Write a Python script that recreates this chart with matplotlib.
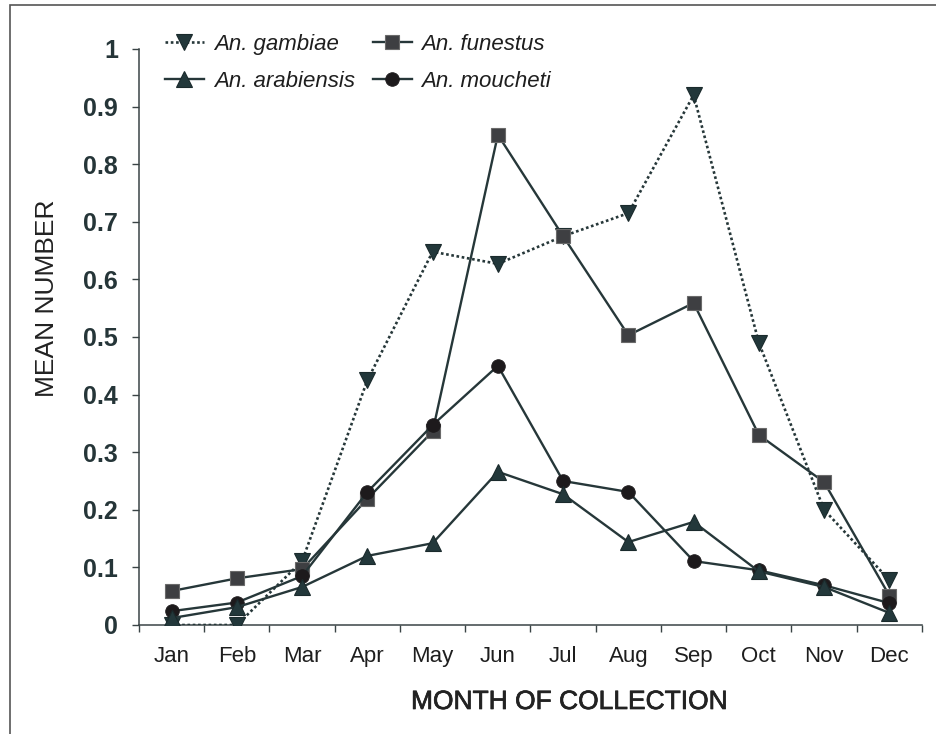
import numpy as np
import matplotlib
matplotlib.use("Agg")
import matplotlib.pyplot as plt
import matplotlib.patheffects as pe
from matplotlib.patches import Rectangle

months = ["Jan", "Feb", "Mar", "Apr", "May", "Jun",
          "Jul", "Aug", "Sep", "Oct", "Nov", "Dec"]
gambiae = [0.0, 0.0, 0.111, 0.425, 0.648, 0.627, 0.675, 0.715, 0.92, 0.49, 0.20, 0.078]
funestus = [0.059, 0.081, 0.097, 0.219, 0.336, 0.851, 0.675, 0.503, 0.559, 0.33, 0.248, 0.051]
arabiensis = [0.012, 0.031, 0.066, 0.12, 0.142, 0.266, 0.227, 0.144, 0.179, 0.093, 0.066, 0.021]
moucheti = [0.024, 0.039, 0.085, 0.231, 0.347, 0.45, 0.25, 0.231, 0.111, 0.095, 0.069, 0.038]
yticks = [0, 0.1, 0.2, 0.3, 0.4, 0.5, 0.6, 0.7, 0.8, 0.9, 1]
ytick_labels = ["0", "0.1", "0.2", "0.3", "0.4", "0.5", "0.6", "0.7", "0.8", "0.9", "1"]

plt.rcParams['font.family'] = ['Liberation Sans', 'DejaVu Sans']

W, H = 937, 734
fig = plt.figure(figsize=(W / 100, H / 100), dpi=100)
ax = fig.add_axes([139 / W, 1 - 625 / H, (922 - 139) / W, (625 - 49) / H])

line_col = "#263739"
x = np.arange(len(months)) + 0.5

ax.plot(x, gambiae, ls=(0, (1, 1)), lw=1.9, color=line_col, marker="v", ms=12,
        mfc="#22373a", mec="#1a2a2c", mew=0.8, label="An. gambiae", zorder=3)
ax.plot(x, funestus, ls="-", lw=1.7, color=line_col, marker="s", ms=9.8,
        mfc="#3e3f42", mec="#6a6a6a", mew=0.8, label="An. funestus", zorder=3)
ax.plot(x, moucheti, ls="-", lw=1.7, color=line_col, marker="o", ms=9.8,
        mfc="#1d1a1c", mec="#1d1a1c", mew=0.6, label="An. moucheti", zorder=4)
ax.plot(x, arabiensis, ls="-", lw=1.7, color=line_col, marker="^", ms=12,
        mfc="#23383b", mec="#1a2a2c", mew=0.8, label="An. arabiensis", zorder=5)

ax.set_xlim(0, 12)
ax.set_ylim(0, 1)
for s in ["top", "right"]:
    ax.spines[s].set_visible(False)
for s in ["left", "bottom"]:
    ax.spines[s].set_color("#3a4446")
    ax.spines[s].set_linewidth(1.1)

ax.set_yticks(yticks)
ax.set_yticklabels(ytick_labels, fontsize=18, fontweight="bold", color="#253538")
ax.tick_params(axis="y", length=5, width=1, color="#3a4446", pad=10)

ax.set_xticks(np.arange(13))
ax.set_xticklabels([])
ax.set_xticks(x, minor=True)
ax.set_xticklabels(months, minor=True, fontsize=16, color="#1e1e1e")
ax.tick_params(axis="x", which="major", length=5, width=1, color="#3a4446")
ax.tick_params(axis="x", which="minor", length=0, pad=15)

fig.text(569 / W, 1 - 702 / H, "MONTH OF COLLECTION", fontsize=19,
         color="#222222", ha="center", va="center",
         path_effects=[pe.withStroke(linewidth=0.5, foreground="#222222")])
fig.text(47 / W, 1 - 298 / H, "MEAN NUMBER", fontsize=19, rotation=90,
         color="#222222", ha="center", va="center")

handles, labels = ax.get_legend_handles_labels()
order = [0, 3, 1, 2]
leg = ax.legend([handles[i] for i in order], [labels[i] for i in order],
                ncol=2, loc="upper left", bbox_to_anchor=(165 / W, 1 - 34 / H),
                bbox_transform=fig.transFigure, frameon=False, borderpad=0,
                borderaxespad=0, handlelength=1.75, handletextpad=0.45,
                columnspacing=0.8, labelspacing=0.72,
                prop={"size": 16, "style": "italic"})
for t in leg.get_texts():
    t.set_color("#1e1e1e")

# outer frame of the original figure panel
fig.patches.append(Rectangle((10 / W, -0.1), 1.2, 0.1 + 1 - 5 / H,
                             transform=fig.transFigure, fill=False,
                             edgecolor="#555555", lw=1.2))

fig.savefig("out.png", dpi=100)
